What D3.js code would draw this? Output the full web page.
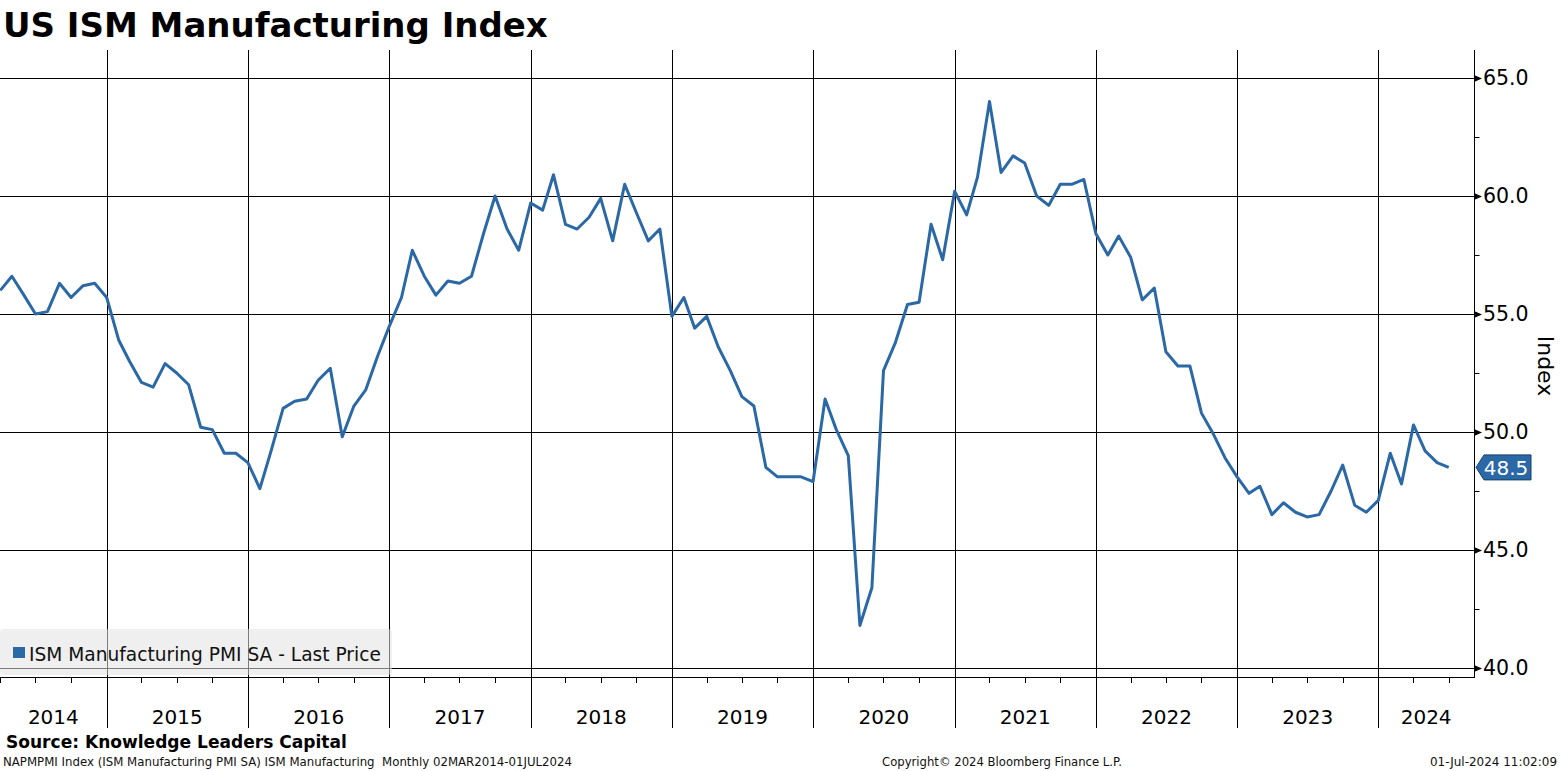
<!DOCTYPE html>
<html><head><meta charset="utf-8">
<script src="https://cdn.jsdelivr.net/npm/d3@7"></script>
<style>body{margin:0;background:#fff;} svg{display:block;}</style>
</head><body>
<svg id="c" width="1561" height="771"></svg>
<script>
// ---- data ----
const firstMonth = "2014-03"; // first monthly observation (Mar 2014), plotted at period end
const pmiValues = [
  // 2014 Mar-Dec
  56.0, 56.6, 55.8, 55.0, 55.1, 56.3, 55.7, 56.2, 56.3, 55.7,
  // 2015
  53.9, 53.0, 52.1, 51.9, 52.9, 52.5, 52.0, 50.2, 50.1, 49.1, 49.1, 48.7,
  // 2016
  47.6, 49.2, 51.0, 51.3, 51.4, 52.2, 52.7, 49.8, 51.1, 51.8, 53.2, 54.5,
  // 2017
  55.7, 57.7, 56.6, 55.8, 56.4, 56.3, 56.6, 58.4, 60.0, 58.6, 57.7, 59.7,
  // 2018
  59.4, 60.9, 58.8, 58.6, 59.1, 59.9, 58.1, 60.5, 59.3, 58.1, 58.6, 54.9,
  // 2019
  55.7, 54.4, 54.9, 53.6, 52.6, 51.5, 51.1, 48.5, 48.1, 48.1, 48.1, 47.9,
  // 2020
  51.4, 50.1, 49.0, 41.8, 43.4, 52.6, 53.8, 55.4, 55.5, 58.8, 57.3, 60.2,
  // 2021
  59.2, 60.8, 64.0, 61.0, 61.7, 61.4, 60.0, 59.6, 60.5, 60.5, 60.7, 58.4,
  // 2022
  57.5, 58.3, 57.4, 55.6, 56.1, 53.4, 52.8, 52.8, 50.8, 49.9, 48.9, 48.1,
  // 2023
  47.4, 47.7, 46.5, 47.0, 46.6, 46.4, 46.5, 47.5, 48.6, 46.9, 46.6, 47.1,
  // 2024 Jan-Jun
  49.1, 47.8, 50.3, 49.2, 48.7, 48.5
];
const yTickValues = [40, 45, 50, 55, 60, 65];
const yMinorTickValues = [42.5, 47.5, 52.5, 57.5, 62.5];
const yearLabels = ["2014","2015","2016","2017","2018","2019","2020","2021","2022","2023","2024"];
const titleText = "US ISM Manufacturing Index";
const seriesName = "ISM Manufacturing PMI SA - Last Price";
const axisTitle = "Index";
const sourceText = "Source: Knowledge Leaders Capital";
const footLeft = "NAPMPMI Index (ISM Manufacturing PMI SA) ISM Manufacturing  Monthly 02MAR2014-01JUL2024";
const footMid = "Copyright\u00A9 2024 Bloomberg Finance L.P.";
const footRight = "01-Jul-2024 11:02:09";

// ---- setup ----
const lineColor = "#2b68a6";
const svg = d3.select("#c");
const plot = {left: 0, right: 1474, top: 50, bottom: 677};
const x = d3.scaleUtc()
  .domain([new Date(Date.UTC(2014, 2, 31, 6)), new Date(Date.UTC(2024, 8, 4, 10))])
  .range([plot.left, plot.right]);
const y = d3.scaleLinear().domain([40, 65]).range([668, 78]);

const [fy, fm] = firstMonth.split("-").map(Number);
const periodEnds = d3.utcMonth.range(new Date(Date.UTC(fy, fm, 1)), new Date(Date.UTC(fy, fm + pmiValues.length, 1)));
const data = pmiValues.map((v, i) => ({date: periodEnds[i], value: v}));

function fit(sel, target) {
  const len = sel.node().getComputedTextLength();
  const fs = parseFloat(sel.attr("font-size"));
  sel.attr("font-size", (fs * target / len).toFixed(2));
  return sel;
}
const FONT = "'DejaVu Sans', Verdana, sans-serif";

// ---- title ----
fit(svg.append("text").attr("x", 3).attr("y", 37).attr("font-family", FONT)
  .attr("font-weight", "bold").attr("font-size", 34).attr("fill", "#000").text(titleText), 545);

// ---- grid ----
const grid = svg.append("g").attr("shape-rendering", "crispEdges");
grid.selectAll("line.h").data(yTickValues).join("line").attr("class", "h")
  .attr("x1", plot.left).attr("x2", plot.right)
  .attr("y1", d => Math.round(y(d)) + 0.5).attr("y2", d => Math.round(y(d)) + 0.5)
  .attr("stroke", "#000").attr("stroke-width", 1);

const yearStarts = yearLabels.map(s => new Date(Date.UTC(+s, 0, 1)));
grid.selectAll("line.v").data(yearStarts.filter(d => x(d) > plot.left)).join("line").attr("class", "v")
  .attr("x1", d => Math.round(x(d)) + 0.5).attr("x2", d => Math.round(x(d)) + 0.5)
  .attr("y1", plot.top).attr("y2", 728)
  .attr("stroke", "#000").attr("stroke-width", 1);

// ---- bottom axis (quarter ticks) ----
const xAxis = d3.axisBottom(x).ticks(d3.utcMonth.every(3)).tickSize(5).tickFormat("");
const gx = svg.append("g").attr("transform", `translate(0,${plot.bottom + 0.5})`).call(xAxis);
gx.select(".domain").attr("stroke", "#000").attr("d", `M${plot.left},0H${plot.right}`);
gx.selectAll(".tick line").attr("stroke", "#000");
gx.attr("shape-rendering", "crispEdges");

svg.append("g").selectAll("text").data(yearLabels).join("text")
  .attr("x", (d, i) => {
    const a = Math.max(plot.left, x(yearStarts[i]));
    const b = Math.min(plot.right, x(new Date(Date.UTC(+d + 1, 0, 1))));
    return (a + b) / 2;
  })
  .attr("y", 724).attr("text-anchor", "middle").attr("font-family", FONT)
  .attr("font-size", 20).attr("fill", "#000").text(d => d);

// ---- right axis ----
svg.append("line").attr("x1", plot.right + 0.5).attr("x2", plot.right + 0.5)
  .attr("y1", plot.top).attr("y2", plot.bottom + 1).attr("stroke", "#000")
  .attr("shape-rendering", "crispEdges");

const yAxis = d3.axisRight(y).tickValues(yTickValues).tickSize(0).tickPadding(9)
  .tickFormat(d3.format(".1f"));
const gy = svg.append("g").attr("transform", `translate(${plot.right},0)`).call(yAxis);
gy.select(".domain").remove();
gy.selectAll(".tick text").attr("font-family", FONT).attr("font-size", 20.5).attr("fill", "#000");
gy.selectAll(".tick").append("path").attr("d", "M0,-3.5L8,0L0,3.5Z").attr("fill", "#000");

const yMinor = d3.axisRight(y).tickValues(yMinorTickValues).tickSize(5).tickFormat("");
const gym = svg.append("g").attr("transform", `translate(${plot.right + 0.5},0)`).call(yMinor);
gym.select(".domain").remove();
gym.selectAll(".tick line").attr("stroke", "#000");

svg.append("text").attr("transform", `translate(1538,366) rotate(90)`)
  .attr("text-anchor", "middle").attr("font-family", FONT).attr("font-size", 22)
  .attr("fill", "#000").text(axisTitle);

// ---- series line ----
svg.append("path").datum(data)
  .attr("d", d3.line().x(d => x(d.date)).y(d => y(d.value)))
  .attr("fill", "none").attr("stroke", lineColor).attr("stroke-width", 3)
  .attr("stroke-linejoin", "round");

// ---- last value marker ----
const last = data[data.length - 1];
const ly = y(last.value);
svg.append("path")
  .attr("d", `M${plot.right + 2},${ly}L${plot.right + 10},${ly - 12.5}H1531V${ly + 12.5}H${plot.right + 10}Z`)
  .attr("fill", lineColor).attr("stroke", "#1b3f66").attr("stroke-width", 1);
svg.append("text").attr("x", 1506).attr("y", ly + 7.5).attr("text-anchor", "middle")
  .attr("font-family", FONT).attr("font-size", 20).attr("fill", "#fff")
  .text(d3.format(".1f")(last.value));

// ---- legend ----
svg.append("rect").attr("x", 0).attr("y", 629).attr("width", 392).attr("height", 46).attr("rx", 4)
  .attr("fill", "#e2e2e2").attr("fill-opacity", 0.55);
svg.append("rect").attr("x", 13).attr("y", 647).attr("width", 12).attr("height", 11).attr("fill", lineColor);
fit(svg.append("text").attr("x", 29).attr("y", 661).attr("font-family", FONT).attr("font-size", 19)
  .attr("fill", "#111").text(seriesName), 352);

// ---- footer ----
fit(svg.append("text").attr("x", 6).attr("y", 748).attr("font-family", FONT).attr("font-weight", "bold")
  .attr("font-size", 17).attr("fill", "#000").text(sourceText), 341);
fit(svg.append("text").attr("x", 3).attr("y", 766).attr("font-family", FONT).attr("font-size", 12)
  .style("white-space", "pre").attr("fill", "#111").text(footLeft), 569);
fit(svg.append("text").attr("x", 882).attr("y", 766).attr("font-family", FONT).attr("font-size", 12)
  .attr("fill", "#111").text(footMid), 240);
fit(svg.append("text").attr("x", 1557).attr("y", 766).attr("text-anchor", "end").attr("font-family", FONT)
  .attr("font-size", 12).attr("fill", "#111").text(footRight), 127);
</script>
</body></html>
